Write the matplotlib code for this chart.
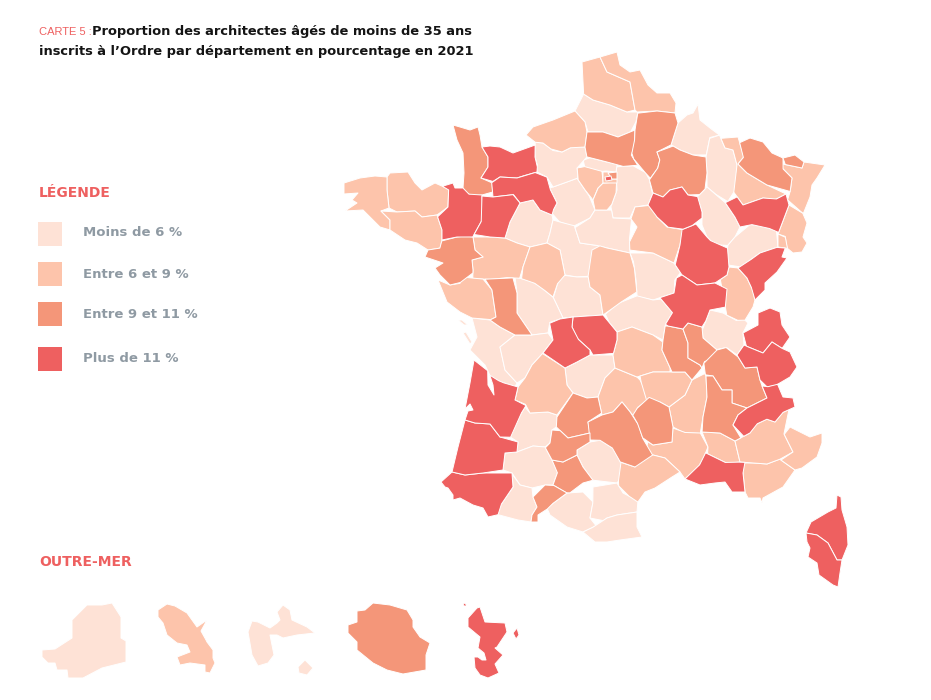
import matplotlib
matplotlib.use("Agg")
import matplotlib.pyplot as plt

# outlines, in picture pixels (x, y)
moins_6 = {
    "somme": [(575,110),(583,95),(593,100),(610,105),(627,112),(638,112),(638,122),(630,130),(618,137),(603,132),(588,132),(585,122)],
    "ardennes": [(672,145),(678,123),(687,115),(693,113),(698,104),(700,120),(710,128),(719,133),(710,138),(707,155),(693,155),(680,150)],
    "meuse": [(708,138),(720,135),(724,148),(733,150),(737,165),(735,190),(728,202),(717,193),(707,187),(707,173),(706,157)],
    "haute_marne": [(697,197),(707,187),(725,202),(735,218),(740,227),(735,237),(727,245),(715,243),(707,237),(702,225),(702,212)],
    "haute_saone": [(728,245),(735,237),(750,224),(760,227),(777,230),(777,247),(760,253),(740,265),(730,265),(725,250)],
    "seine_et_marne": [(618,167),(633,166),(645,173),(650,180),(650,193),(648,205),(635,207),(630,218),(613,218),(612,208),(617,190),(617,173)],
    "val_d_oise": [(583,160),(590,158),(607,162),(617,165),(616,172),(606,171),(600,172),(595,167),(585,167)],
    "eure_et_loir": [(553,187),(567,182),(577,178),(588,197),(595,210),(590,218),(573,227),(560,220),(552,213),(557,203),(550,188)],
    "eure": [(535,144),(543,143),(553,150),(562,152),(572,146),(585,147),(586,157),(577,167),(578,178),(567,182),(553,187),(548,177),(537,172),(538,165),(535,157)],
    "sarthe": [(520,203),(533,199),(540,210),(552,215),(553,220),(550,233),(547,243),(530,247),(517,243),(505,238),(510,222)],
    "loir_et_cher": [(553,220),(560,222),(575,227),(580,243),(600,246),(605,257),(600,270),(593,276),(577,276),(565,275),(560,250),(547,243),(550,233)],
    "loiret": [(577,227),(590,218),(595,210),(612,210),(613,218),(633,218),(630,240),(630,253),(607,248),(597,245),(580,243)],
    "indre": [(553,298),(560,282),(565,276),(577,277),(588,277),(590,287),(600,295),(603,315),(573,315),(563,318)],
    "nievre": [(630,253),(653,253),(674,264),(680,273),(673,280),(674,293),(653,300),(637,297),(635,280),(630,263)],
    "allier": [(605,313),(617,303),(635,296),(653,300),(661,299),(672,313),(665,325),(663,340),(653,335),(632,327),(620,330),(617,332),(610,322)],
    "ain": [(703,330),(710,310),(723,313),(735,322),(743,317),(748,323),(743,333),(744,345),(737,355),(727,347),(717,349),(703,338)],
    "vienne": [(515,275),(530,283),(540,283),(553,297),(563,318),(550,323),(548,332),(532,335),(517,313),(518,293)],
    "charente_maritime": [(472,318),(490,320),(500,327),(515,335),(498,347),(505,370),(517,383),(515,387),(500,383),(490,377),(485,365),(470,350),(477,337)],
    "ile_de_re": [(458,320),(462,320),(468,325),(464,325)],
    "oleron": [(463,333),(466,332),(472,342),(470,344)],
    "charente": [(515,335),(532,335),(548,333),(553,340),(543,353),(532,365),(525,378),(517,383),(505,370),(500,347)],
    "correze": [(565,368),(577,362),(590,355),(613,355),(615,368),(605,378),(598,397),(587,398),(573,393),(567,385)],
    "tarn": [(577,450),(590,442),(600,441),(612,450),(620,463),(632,467),(625,472),(617,483),(593,482),(583,467),(577,455)],
    "lot_et_garonne": [(525,407),(530,413),(548,412),(557,415),(555,427),(552,430),(550,443),(545,447),(533,446),(517,452),(518,442),(508,435),(517,420)],
    "gers": [(505,453),(517,452),(533,446),(545,447),(552,460),(558,472),(553,485),(545,485),(532,488),(520,485),(512,473),(503,470)],
    "hautes_pyrenees": [(512,474),(520,485),(532,488),(532,497),(538,507),(532,515),(530,522),(518,520),(500,515),(498,507),(513,487)],
    "ariege": [(547,508),(567,493),(583,492),(592,502),(590,518),(597,527),(583,532),(567,527),(550,515)],
    "aude": [(593,487),(617,483),(623,493),(637,500),(637,512),(617,515),(607,518),(605,523),(590,518),(593,503)],
    "pyrenees_orientales": [(583,532),(593,528),(607,518),(617,515),(637,512),(637,527),(642,537),(620,540),(607,542),(595,542),(583,533)],
    "guyane": [(42,650),(55,649),(72,638),(72,620),(87,605),(102,605),(112,603),(121,617),(121,638),(126,641),(126,662),(102,668),(83,678),(68,678),(67,670),(57,670),(55,663),(48,663),(42,657)],
    "guadeloupe": [(248,632),(252,621),(258,622),(270,628),(277,623),(280,620),(277,612),(283,605),(290,610),(292,620),(307,627),(315,633),(297,635),(283,638),(277,635),(270,635),(274,655),(268,663),(258,666),(252,655)],
    "marie_galante": [(305,660),(313,668),(307,675),(299,673),(298,667)],
}

entre_6_9 = {
    "pas_de_calais": [(582,62),(600,57),(607,72),(630,82),(635,110),(627,112),(610,105),(593,100),(582,93)],
    "nord": [(600,57),(617,52),(620,65),(630,72),(640,70),(648,85),(657,93),(670,93),(676,103),(675,113),(657,112),(637,112),(635,110),(630,82),(607,72)],
    "seine_maritime": [(526,135),(533,127),(553,120),(575,111),(585,122),(587,132),(585,147),(570,147),(562,152),(550,150),(543,143),(533,142)],
    "meurthe_et_moselle": [(724,137),(738,137),(743,157),(738,164),(747,173),(767,185),(787,193),(775,200),(763,198),(743,205),(735,193),(737,165),(733,150),(725,148)],
    "bas_rhin": [(782,168),(783,164),(802,168),(805,161),(825,165),(817,178),(812,185),(810,197),(805,213),(787,200),(790,192),(792,178)],
    "haut_rhin": [(790,205),(803,213),(807,223),(803,237),(807,243),(802,252),(793,253),(787,248),(785,237),(778,233)],
    "belfort": [(778,234),(787,237),(787,249),(778,247)],
    "yonne": [(631,218),(635,207),(653,205),(657,217),(667,227),(683,230),(679,245),(674,263),(653,253),(632,250),(628,242),(637,227)],
    "jura": [(730,267),(738,268),(747,278),(755,290),(755,300),(753,307),(747,318),(738,322),(728,313),(722,282),(727,275)],
    "yvelines": [(577,168),(583,167),(602,172),(603,180),(597,188),(592,200),(585,190),(578,180)],
    "essonne": [(603,183),(617,182),(617,193),(613,205),(607,210),(595,210),(593,200),(598,188)],
    "petite_couronne": [(603,172),(608,172),(612,179),(617,179),(617,183),(603,183)],
    "cotes_d_armor": [(387,177),(390,173),(408,172),(415,183),(422,190),(435,183),(448,190),(448,207),(437,215),(422,217),(415,211),(397,212),(389,208),(387,190)],
    "finistere": [(344,183),(360,178),(375,176),(387,177),(387,190),(389,208),(381,211),(390,220),(388,230),(380,227),(363,210),(345,211),(357,203),(352,200),(358,193),(344,194)],
    "morbihan": [(381,211),(397,212),(415,211),(422,217),(437,215),(442,230),(442,240),(440,248),(428,250),(417,243),(405,240),(390,230),(390,220)],
    "maine_et_loire": [(473,237),(490,237),(505,238),(517,243),(530,247),(523,267),(520,277),(507,277),(490,280),(473,277),(473,270),(472,260),(483,257),(475,250)],
    "indre_et_loire": [(530,247),(547,243),(560,250),(565,270),(565,275),(555,283),(553,297),(545,290),(535,283),(522,277),(523,267)],
    "cher": [(592,250),(600,245),(607,248),(630,253),(636,268),(636,292),(620,300),(612,312),(603,315),(600,295),(590,287),(588,275)],
    "vendee": [(438,280),(450,285),(460,283),(462,277),(483,280),(492,290),(496,317),(490,318),(472,318),(460,312),(447,302)],
    "dordogne": [(543,354),(565,368),(567,385),(573,393),(557,415),(548,412),(530,413),(525,405),(515,400),(518,387),(525,378),(532,365)],
    "cantal": [(598,397),(605,378),(615,368),(637,377),(643,380),(650,398),(637,407),(633,418),(622,402),(613,412),(602,415)],
    "puy_de_dome": [(617,332),(632,327),(653,335),(663,342),(662,350),(672,367),(670,373),(653,372),(637,377),(615,368),(613,355),(617,340)],
    "ardeche": [(706,376),(707,397),(703,417),(701,433),(692,432),(683,433),(675,427),(672,413),(669,407),(685,395),(692,380),(702,374)],
    "haute_loire": [(640,376),(653,372),(672,372),(685,372),(692,380),(685,395),(669,407),(660,402),(648,405),(640,383)],
    "gard": [(647,443),(653,445),(672,442),(672,428),(685,433),(700,433),(708,447),(700,457),(698,465),(683,480),(680,472),(665,458),(653,455),(645,457)],
    "herault": [(620,465),(635,467),(638,458),(653,455),(665,458),(680,472),(672,477),(655,488),(645,492),(637,502),(628,498),(617,487),(617,480)],
    "vaucluse": [(702,433),(720,433),(735,441),(739,463),(727,463),(708,453),(708,447)],
    "var": [(743,463),(753,463),(767,464),(780,460),(795,472),(783,487),(763,498),(762,503),(760,498),(748,498),(745,492),(743,473)],
    "alpes_de_haute_provence": [(735,441),(753,435),(757,425),(767,420),(775,422),(783,413),(790,412),(783,433),(793,452),(780,459),(767,464),(740,462)],
    "alpes_maritimes": [(790,427),(810,437),(822,433),(822,443),(817,457),(802,468),(795,470),(781,460),(793,452),(783,435)],
    "martinique": [(158,610),(167,604),(175,606),(187,613),(197,627),(207,620),(201,631),(206,640),(207,642),(213,650),(213,658),(215,663),(210,673),(205,672),(205,665),(190,663),(180,665),(177,657),(190,652),(187,645),(177,643),(167,635),(163,623),(158,617)],
}

entre_9_11 = {
    "oise": [(587,132),(603,132),(618,137),(635,130),(637,147),(632,155),(637,166),(623,165),(607,162),(587,157),(585,147)],
    "aisne": [(637,113),(657,111),(675,113),(678,123),(672,137),(671,145),(657,152),(659,160),(657,168),(650,178),(645,172),(632,160),(631,153),(637,140),(635,130)],
    "marne": [(657,152),(672,148),(680,150),(693,155),(706,157),(707,173),(703,187),(700,195),(688,195),(682,187),(670,190),(663,197),(653,193),(649,180),(658,168),(660,160)],
    "moselle": [(742,142),(750,138),(763,142),(772,153),(783,158),(782,170),(792,178),(792,192),(767,185),(747,173),(738,164),(744,158)],
    "moselle_est": [(783,158),(795,155),(804,162),(802,168),(785,166)],
    "seine_saint_denis": [(608,173),(617,172),(617,179),(612,179)],
    "manche": [(453,125),(460,127),(470,130),(478,127),(480,135),(480,147),(488,157),(488,167),(481,178),(490,183),(493,192),(483,195),(472,197),(465,193),(463,187),(464,173),(463,153),(457,140)],
    "loire_atlantique": [(442,241),(457,237),(465,233),(473,237),(475,250),(483,257),(472,260),(473,270),(475,273),(462,283),(450,285),(440,275),(435,268),(443,263),(425,257),(428,250),(440,249)],
    "deux_sevres": [(485,280),(513,277),(517,293),(517,313),(532,335),(515,335),(500,327),(490,320),(496,317),(492,290)],
    "lot": [(573,393),(587,398),(598,397),(602,413),(588,422),(590,433),(568,438),(557,428),(555,417)],
    "aveyron": [(588,422),(602,415),(613,412),(622,402),(632,410),(638,425),(642,440),(652,452),(635,467),(620,462),(613,447),(600,440),(590,440)],
    "loire": [(665,326),(668,326),(683,329),(688,343),(688,358),(700,365),(702,368),(692,380),(685,372),(672,372),(662,350),(663,340)],
    "rhone": [(683,329),(688,323),(702,327),(703,338),(717,350),(715,358),(705,362),(702,368),(700,365),(688,358),(688,343)],
    "isere": [(703,363),(717,350),(726,347),(737,358),(745,368),(757,367),(760,380),(763,387),(767,398),(747,408),(732,403),(732,390),(722,390),(713,376),(705,375)],
    "drome": [(706,376),(713,376),(722,390),(732,390),(732,403),(747,408),(738,415),(733,425),(742,440),(735,441),(720,433),(702,432),(703,417),(707,397)],
    "lozere": [(637,408),(648,398),(660,402),(669,407),(673,427),(672,442),(653,445),(642,438),(638,423),(633,415)],
    "haute_garonne": [(552,460),(563,462),(577,455),(583,467),(593,480),(583,483),(570,493),(567,492),(553,485),(558,473)],
    "comminges": [(533,497),(545,485),(553,487),(567,493),(560,500),(552,502),(545,510),(538,515),(538,522),(531,522),(532,515),(537,507)],
    "tarn_et_garonne": [(552,430),(558,433),(568,438),(590,433),(590,442),(577,450),(577,455),(563,462),(552,460),(545,448),(550,443)],
    "reunion": [(348,625),(357,622),(357,611),(365,610),(373,603),(390,605),(407,610),(413,620),(413,627),(420,637),(430,643),(426,655),(426,670),(403,674),(387,670),(373,663),(357,650),(357,642),(348,633)],
}

plus_11 = {
    "vosges": [(725,203),(737,197),(743,205),(763,198),(777,200),(786,194),(789,205),(780,233),(770,227),(752,224),(740,227),(735,217)],
    "doubs": [(738,268),(753,262),(760,253),(777,248),(785,250),(782,257),(787,258),(777,272),(765,283),(765,290),(755,300),(752,287),(747,278)],
    "cote_d_or": [(682,230),(697,225),(707,237),(708,243),(727,248),(729,267),(727,275),(715,283),(697,285),(682,275),(675,265),(680,245)],
    "aube": [(648,205),(653,193),(663,197),(670,190),(682,187),(688,195),(697,196),(702,212),(702,218),(693,227),(683,229),(668,228),(657,217)],
    "paris": [(605,177),(611,176),(612,180),(606,181)],
    "calvados": [(482,147),(490,146),(500,147),(513,153),(533,145),(535,157),(538,167),(537,172),(523,175),(517,178),(500,177),(492,180),(481,178),(488,167),(488,157),(482,153)],
    "orne": [(492,182),(500,177),(517,178),(535,172),(547,177),(550,190),(557,203),(551,208),(552,215),(540,210),(533,200),(520,203),(513,195),(493,198)],
    "ille_et_vilaine": [(443,185),(453,183),(455,188),(463,188),(468,196),(482,195),(482,220),(473,235),(457,237),(442,240),(442,230),(437,217),(448,207),(450,190)],
    "mayenne": [(483,196),(493,197),(513,194),(520,203),(510,222),(505,238),(490,237),(475,235),(482,222)],
    "saone_et_loire": [(660,298),(674,293),(675,277),(682,275),(697,285),(715,283),(727,289),(726,307),(710,310),(703,320),(702,327),(688,323),(683,329),(668,326),(665,324),(673,313)],
    "creuse": [(573,317),(587,315),(603,315),(617,332),(617,340),(612,353),(593,353),(590,350),(578,338),(572,327)],
    "haute_vienne": [(548,323),(560,319),(573,317),(572,327),(578,340),(590,350),(590,355),(577,362),(565,368),(543,353),(553,340)],
    "haute_savoie": [(743,333),(758,325),(758,313),(770,308),(780,312),(782,325),(790,337),(783,347),(772,342),(763,353),(748,343)],
    "savoie": [(737,355),(744,345),(748,347),(763,353),(772,342),(783,349),(790,352),(797,367),(790,377),(775,383),(767,387),(760,380),(757,367),(745,368)],
    "hautes_alpes": [(762,386),(768,387),(778,385),(783,397),(793,398),(795,407),(783,412),(775,422),(767,419),(757,423),(750,433),(743,435),(733,425),(738,415),(747,408),(767,398)],
    "pyrenees_atlantiques": [(441,482),(450,473),(465,475),(483,473),(512,473),(513,487),(500,503),(498,515),(488,517),(483,508),(473,505),(460,498),(453,500),(453,495),(448,488),(445,487)],
    "landes": [(465,420),(475,423),(490,424),(500,437),(518,442),(517,452),(505,453),(503,470),(483,473),(465,475),(452,472),(458,447)],
    "gironde": [(474,360),(485,372),(488,385),(494,395),(493,385),(490,375),(500,378),(503,385),(518,387),(515,400),(527,405),(520,412),(512,435),(500,437),(490,424),(475,423),(465,420),(468,411),(473,410),(470,404),(465,409),(470,383)],
    "bouches_du_rhone": [(706,453),(725,463),(739,465),(745,462),(743,473),(745,492),(732,492),(725,482),(715,483),(700,485),(685,479),(700,465)],
    "haute_corse": [(837,495),(841,497),(842,510),(847,527),(848,545),(842,560),(837,560),(828,543),(817,535),(806,533),(811,522),(828,512),(836,508)],
    "corse_du_sud": [(806,533),(817,535),(828,543),(837,560),(842,560),(840,573),(838,587),(833,585),(819,575),(817,563),(808,557),(810,548),(807,542)],
    "mayotte": [(468,618),(477,608),(480,607),(485,622),(505,623),(507,632),(497,647),(495,648),(503,655),(495,664),(499,673),(488,678),(480,675),(475,668),(474,657),(478,657),(482,660),(486,660),(484,653),(478,648),(480,637),(468,627)],
    "petite_terre": [(513,633),(517,628),(519,635),(516,639)],
    "mayotte_nord": [(463,604),(465,603),(467,606),(464,606)],
}

classes = [moins_6, entre_6_9, entre_9_11, plus_11]
colors = ["#fee2d6", "#fdc4ab", "#f49679", "#ee6060"]
legend_labels = ["Moins de 6 %", "Entre 6 et 9 %", "Entre 9 et 11 %", "Plus de 11 %"]
legend_tops = [222, 262, 302, 347]
legend_text_y = [232, 275, 314, 359]
# too small to be pulled onto their neighbours
no_snap = ["paris", "seine_saint_denis", "petite_couronne", "ile_de_re", "oleron"]


def nearest_on_segment(p, a, b):
    dx, dy = b[0] - a[0], b[1] - a[1]
    if dx == 0 and dy == 0:
        return a
    t = ((p[0] - a[0]) * dx + (p[1] - a[1]) * dy) / (dx * dx + dy * dy)
    t = max(0, min(1, t))
    return (a[0] + t * dx, a[1] + t * dy)


def close_gaps(shapes, limit=3.8):
    # my outlines don't share borders exactly, pull close vertices together
    names = [n for n in shapes if n not in no_snap]
    for name in names:
        new = []
        for p in shapes[name]:
            best, best_d = p, limit
            for other in names:
                if other == name:
                    continue
                ring = shapes[other]
                for a, b in zip(ring, ring[1:] + ring[:1]):
                    q = nearest_on_segment(p, a, b)
                    d = ((q[0] - p[0]) ** 2 + (q[1] - p[1]) ** 2) ** 0.5
                    if d < best_d:
                        best, best_d = q, d
            new.append(best)
        shapes[name] = new


all_shapes = {}
for shapes in classes:
    all_shapes.update(shapes)
close_gaps(all_shapes)

fig = plt.figure(figsize=(9.31, 7), dpi=100)
ax = fig.add_axes([0, 0, 1, 1])
ax.set_xlim(0, 931)
ax.set_ylim(700, 0)
ax.axis("off")

for shapes, color in zip(classes, colors):
    for name in shapes:
        xs = [p[0] for p in all_shapes[name]]
        ys = [p[1] for p in all_shapes[name]]
        ax.fill(xs, ys, facecolor=color, edgecolor="white", linewidth=0.7, joinstyle="round")

red = "#ee6060"
grey = "#8f9aa3"
ax.text(39, 32, "CARTE 5 :", color=red, fontsize=8, va="center", family="Liberation Sans")
ax.text(92, 32, "Proportion des architectes âgés de moins de 35 ans", color="#141414",
        fontsize=9.35, fontweight="bold", va="center")
ax.text(39, 52, "inscrits à l’Ordre par département en pourcentage en 2021", color="#141414",
        fontsize=9.4, fontweight="bold", va="center")

ax.text(39, 193, "LÉGENDE", color=red, fontsize=10, fontweight="bold", va="center")
ax.text(39, 562, "OUTRE-MER", color=red, fontsize=10, fontweight="bold", va="center")

for top, ty, label, color in zip(legend_tops, legend_text_y, legend_labels, colors):
    ax.fill([38, 62, 62, 38], [top, top, top + 24, top + 24], facecolor=color, edgecolor="none")
    ax.text(83, ty, label, color=grey, fontsize=9.5, fontweight="bold", va="center")

fig.savefig("out.png", dpi=100)
